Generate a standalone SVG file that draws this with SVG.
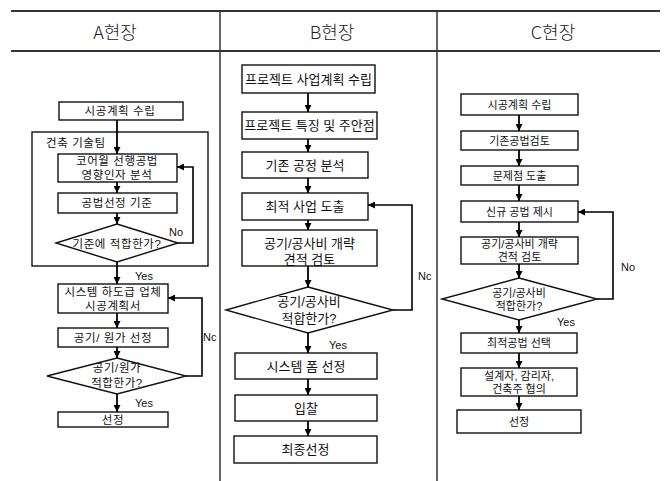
<svg xmlns="http://www.w3.org/2000/svg" width="667" height="481" viewBox="0 0 667 481">
<defs>
<marker id="ah" viewBox="0 0 8 8" refX="8" refY="4" markerWidth="7" markerHeight="7" markerUnits="userSpaceOnUse" orient="auto">
<path d="M0,0 L8,4 L0,8 z" fill="#000"/>
</marker>
<style>
.frame{stroke:#333;stroke-width:2;fill:none}
.div{stroke:#333;stroke-width:1.5;fill:none}
.box{fill:#fff;stroke:#111;stroke-width:1.4}
.grp{fill:none;stroke:#111;stroke-width:1.4}
.con{fill:none;stroke:#000;stroke-width:1.8;marker-end:url(#ah)}
.fb{fill:none;stroke:#000;stroke-width:1.6;marker-end:url(#ah)}
.hd{font-family:"Noto Sans CJK KR","Noto Sans",sans-serif;font-size:18px;font-weight:300;fill:#222;text-anchor:middle;dominant-baseline:central}
.t{font-family:"Liberation Sans","Noto Sans CJK KR",sans-serif;fill:#111;text-anchor:middle;dominant-baseline:central}
.ta{font-size:11.5px;letter-spacing:0.6px}
.tb{font-size:13px}
.tc{font-size:11px}
.yn{font-family:"Liberation Sans",Arial,sans-serif;font-size:11px;fill:#111;dominant-baseline:central}
</style>
</defs>
<g id="frame">
<line class="frame" x1="11" y1="11" x2="660" y2="11"/>
<line class="frame" x1="11" y1="51" x2="660" y2="51"/>
<line class="div" x1="220" y1="11" x2="220" y2="481"/>
<line class="div" x1="437" y1="11" x2="437" y2="481"/>
<text class="hd" x="115" y="31">A현장</text>
<text class="hd" x="332" y="31">B현장</text>
<text class="hd" x="553" y="31">C현장</text>
</g>
<g id="a-group"><rect class="grp" x="32" y="132" width="176" height="134"/><text class="t ta" x="46" y="143" style="text-anchor:start">건축 기술팀</text></g>
<g id="a1"><rect class="box" x="59" y="102" width="124" height="18"/><text class="t ta" x="120" y="111">시공계획 수립</text></g>
<g id="a2"><rect class="box" x="58" y="154" width="119" height="28"/><text class="t ta" x="117" y="161">코어월 선행공법<tspan x="117" dy="14">영향인자 분석</tspan></text></g>
<g id="a3"><rect class="box" x="58" y="193" width="119" height="20"/><text class="t ta" x="117" y="203">공법선정 기준</text></g>
<g id="a4"><polygon class="box" points="117,224 178,243 117,262 56,243"/><text class="t ta" x="117" y="244">기준에 적합한가?</text></g>
<g id="a5"><rect class="box" x="58" y="284" width="110" height="29"/><text class="t ta" x="113" y="292">시스템 하도급 업체<tspan x="113" dy="13.5">시공계획서</tspan></text></g>
<g id="a6"><rect class="box" x="58" y="328" width="110" height="19"/><text class="t ta" x="113" y="337.5">공기/ 원가 선정</text></g>
<g id="a7"><polygon class="box" points="117,358 186,376 117,394 47,376"/><text class="t ta" x="117" y="368">공기/원가<tspan x="117" dy="15">적합한가?</tspan></text></g>
<g id="a8"><rect class="box" x="58" y="412" width="110" height="15"/><text class="t ta" x="113" y="419.5">선정</text></g>
<g id="b1"><rect class="box" x="242" y="65" width="133" height="28"/><text class="t tb" x="308.5" y="79">프로젝트 사업계획 수립</text></g>
<g id="b2"><rect class="box" x="242" y="112" width="135" height="27"/><text class="t tb" x="309.5" y="125.5">프로젝트 특징 및 주안점</text></g>
<g id="b3"><rect class="box" x="242" y="152" width="126" height="26"/><text class="t tb" x="305" y="165">기존 공정 분석</text></g>
<g id="b4"><rect class="box" x="242" y="193" width="126" height="27"/><text class="t tb" x="305" y="206.5">최적 사업 도출</text></g>
<g id="b5"><rect class="box" x="242" y="230" width="135" height="36"/><text class="t tb" x="309.5" y="243">공기/공사비 개략<tspan x="309.5" dy="15.5">견적 검토</tspan></text></g>
<g id="b6"><polygon class="box" points="308,287 393,310 308,333 226,310"/><text class="t tb" x="309" y="301">공기/공사비<tspan x="309" dy="17">적합한가?</tspan></text></g>
<g id="b7"><rect class="box" x="235" y="353" width="142" height="26"/><text class="t tb" x="306" y="366">시스템 폼 선정</text></g>
<g id="b8"><rect class="box" x="235" y="395" width="142" height="26"/><text class="t tb" x="306" y="408">입찰</text></g>
<g id="b9"><rect class="box" x="234" y="436" width="143" height="27"/><text class="t tb" x="305.5" y="449.5">최종선정</text></g>
<g id="c1"><rect class="box" x="461" y="94" width="117" height="21"/><text class="t tc" x="519.5" y="104.5">시공계획 수립</text></g>
<g id="c2"><rect class="box" x="461" y="131" width="117" height="19"/><text class="t tc" x="519.5" y="140.5">기존공법검토</text></g>
<g id="c3"><rect class="box" x="461" y="166" width="117" height="19"/><text class="t tc" x="519.5" y="175.5">문제점 도출</text></g>
<g id="c4"><rect class="box" x="461" y="201" width="117" height="21"/><text class="t tc" x="519.5" y="211.5">신규 공법 제시</text></g>
<g id="c5"><rect class="box" x="461" y="237" width="117" height="27"/><text class="t tc" x="519.5" y="244">공기/공사비 개략<tspan x="519.5" dy="13">견적 검토</tspan></text></g>
<g id="c6"><polygon class="box" points="519,278 597,299 519,320 442,299"/><text class="t tc" x="519" y="292.5">공기/공사비<tspan x="519" dy="13">적합한가?</tspan></text></g>
<g id="c7"><rect class="box" x="461" y="333" width="116" height="20"/><text class="t tc" x="519" y="343">최적공법 선택</text></g>
<g id="c8"><rect class="box" x="461" y="368" width="116" height="28"/><text class="t tc" x="519" y="375.5">설계자, 감리자,<tspan x="519" dy="13">건축주 협의</tspan></text></g>
<g id="c9"><rect class="box" x="457" y="410" width="124" height="23"/><text class="t tc" x="519" y="421.5">선정</text></g>
<g id="connectors">
<line class="con" x1="117" y1="120" x2="117" y2="154"/>
<line class="con" x1="117" y1="182" x2="117" y2="193"/>
<line class="con" x1="117" y1="213" x2="117" y2="224"/>
<polyline class="fb" points="178,243 193,243 193,167 177,167"/>
<line class="con" x1="117" y1="262" x2="117" y2="284"/>
<line class="con" x1="117" y1="313" x2="117" y2="328"/>
<line class="con" x1="117" y1="347" x2="117" y2="358"/>
<polyline class="fb" points="186,376 202,376 202,298 168,298"/>
<line class="con" x1="117" y1="394" x2="117" y2="412"/>
<line class="con" x1="308" y1="93" x2="308" y2="112"/>
<line class="con" x1="308" y1="139" x2="308" y2="152"/>
<line class="con" x1="308" y1="178" x2="308" y2="193"/>
<line class="con" x1="308" y1="220" x2="308" y2="230"/>
<line class="con" x1="308" y1="266" x2="308" y2="287"/>
<polyline class="fb" points="393,310 412,310 412,205 368,205"/>
<line class="con" x1="308" y1="333" x2="308" y2="353"/>
<line class="con" x1="308" y1="379" x2="308" y2="395"/>
<line class="con" x1="308" y1="421" x2="308" y2="436"/>
<line class="con" x1="519" y1="115" x2="519" y2="131"/>
<line class="con" x1="519" y1="150" x2="519" y2="166"/>
<line class="con" x1="519" y1="185" x2="519" y2="201"/>
<line class="con" x1="519" y1="222" x2="519" y2="237"/>
<line class="con" x1="519" y1="264" x2="519" y2="278"/>
<polyline class="fb" points="597,299 613,299 613,212 578,212"/>
<line class="con" x1="519" y1="320" x2="519" y2="333"/>
<line class="con" x1="519" y1="353" x2="519" y2="368"/>
<line class="con" x1="519" y1="396" x2="519" y2="410"/>
<text class="yn" x="169" y="232">No</text>
<text class="yn" x="135" y="276">Yes</text>
<text class="yn" x="203" y="337">Nc</text>
<text class="yn" x="135" y="403">Yes</text>
<text class="yn" x="418" y="276">Nc</text>
<text class="yn" x="329" y="345">Yes</text>
<text class="yn" x="621" y="267">No</text>
<text class="yn" x="557" y="322">Yes</text>
</g>
</svg>
